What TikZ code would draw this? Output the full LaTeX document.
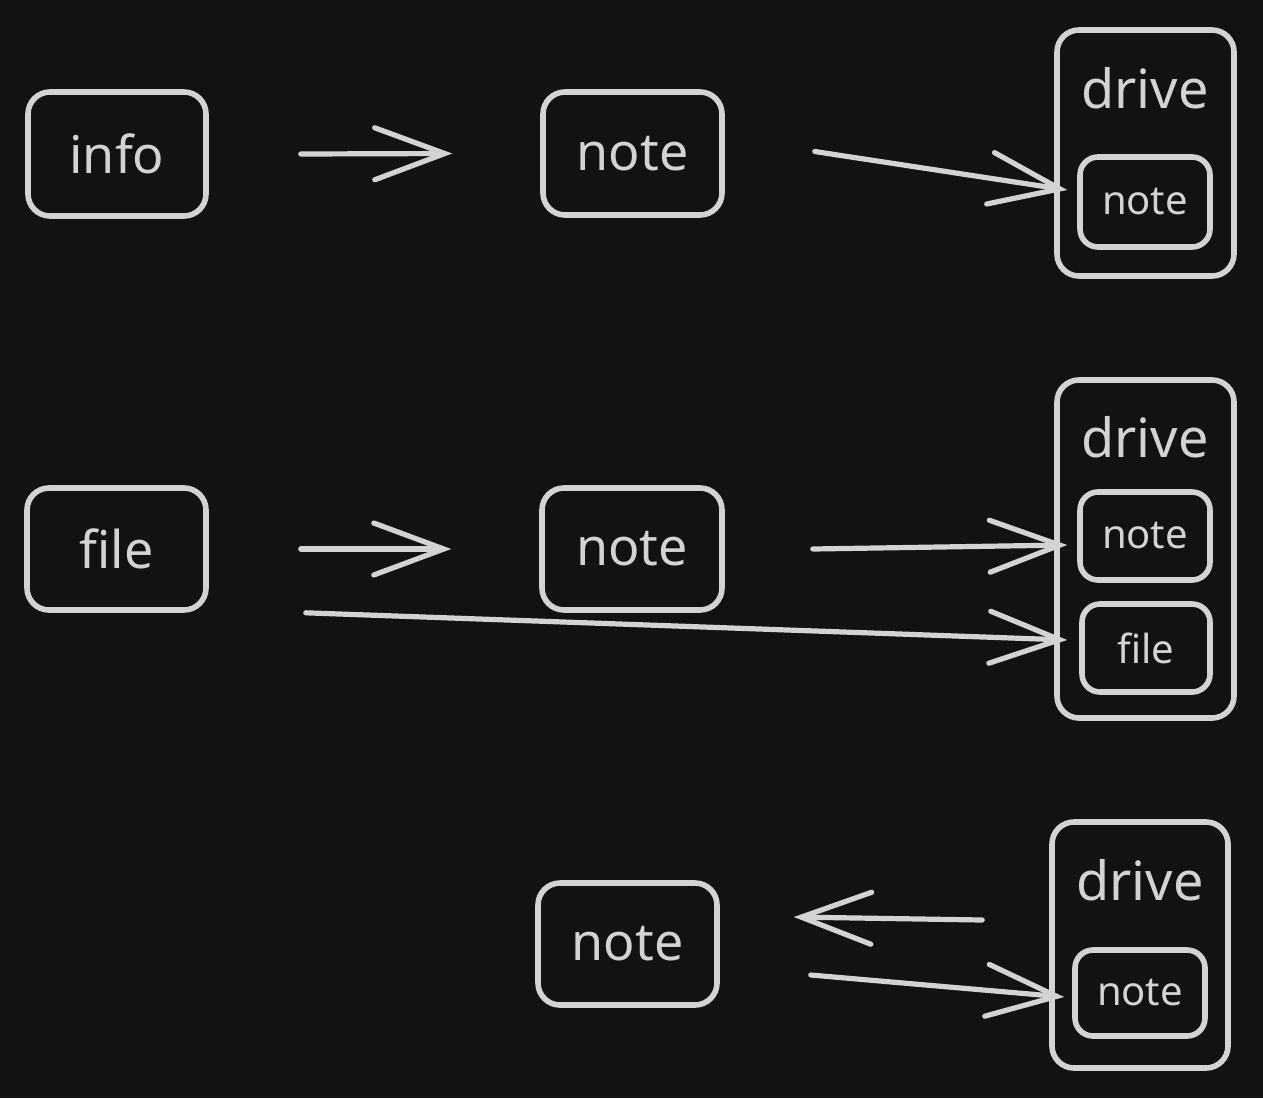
\documentclass[tikz,border=0pt]{standalone}
\usepackage{fontspec}
\setmainfont{Noto Sans}
\usetikzlibrary{arrows.meta}

\definecolor{bgdark}{HTML}{121212}
\definecolor{chalk}{HTML}{D3D3D3}

\tikzset{
  box/.style={draw=chalk, line width=2.8pt, rounded corners=11pt, inner sep=0pt,
    text=chalk, font=\fontsize{26}{30}\selectfont},
  smallbox/.style={box, font=\fontsize{20}{24}\selectfont, rounded corners=9pt},
  label/.style={text=chalk, inner sep=0pt, font=\fontsize{27}{31}\selectfont},
  arr/.style={draw=chalk, line width=2.6pt, line cap=round,
    -{Straight Barb[length=35pt, width=26pt, line cap=round]}},
}

\begin{document}
\begin{tikzpicture}[x=0.5pt, y=-0.5pt]
  \fill[bgdark] (0,0) rectangle (1263,1098);
  \useasboundingbox (0,0) rectangle (1263,1098);

  % first row
  \node[box, minimum width=89pt, minimum height=62pt] (info) at (117,154) {info};
  \node[box, minimum width=89.5pt, minimum height=61.5pt] (note1) at (632.5,153.5) {note};
  \node[box, minimum width=88.5pt, minimum height=123pt] (drive1) at (1145.5,153) {};
  \node[label] (drivelab1) at (1145,88) {drive};
  \node[smallbox, minimum width=65pt, minimum height=45pt] (inote1) at (1145,202) {note};

  \draw[arr] ([xshift=46pt]info.east) -- ([xshift=-44pt]note1.west);
  \draw[arr] ([xshift=45pt,yshift=1pt]note1.east) -- ([xshift=-5pt,yshift=6pt]inote1.west);

  % second row
  \node[box, minimum width=89.5pt, minimum height=61pt] (file) at (116.5,549) {file};
  \node[box, minimum width=90pt, minimum height=61pt] (note2) at (632,549) {note};
  \node[box, minimum width=88.5pt, minimum height=169pt] (drive2) at (1145.5,549) {};
  \node[label] (drivelab2) at (1145,437) {drive};
  \node[smallbox, minimum width=65pt, minimum height=44pt] (inote2) at (1145,536) {note};
  \node[smallbox, minimum width=64pt, minimum height=44pt] (ifile2) at (1146,648) {file};

  \draw[arr] ([xshift=46pt]file.east) -- ([xshift=-44pt]note2.west);
  \draw[arr] ([xshift=44pt]note2.east) -- ([xshift=-5pt,yshift=-4.5pt]inote2.west);
  \draw[arr] ([xshift=48.5pt]file.south east) -- ([xshift=-6pt,yshift=4pt]ifile2.west);

  % third row
  \node[box, minimum width=89.5pt, minimum height=61pt] (note3) at (627.5,944) {note};
  \node[box, minimum width=88pt, minimum height=123pt] (drive3) at (1140,945) {};
  \node[label] (drivelab3) at (1140,880) {drive};
  \node[smallbox, minimum width=65pt, minimum height=43pt] (inote3) at (1140,993) {note};

  \draw[arr] ([xshift=-33.5pt,yshift=12.5pt]drive3.west) -- ([xshift=37pt,yshift=13.5pt]note3.east);
  \draw[arr] ([xshift=45.5pt,yshift=-15.5pt]note3.east) -- ([xshift=-4pt,yshift=-2pt]inote3.west);
\end{tikzpicture}
\end{document}
